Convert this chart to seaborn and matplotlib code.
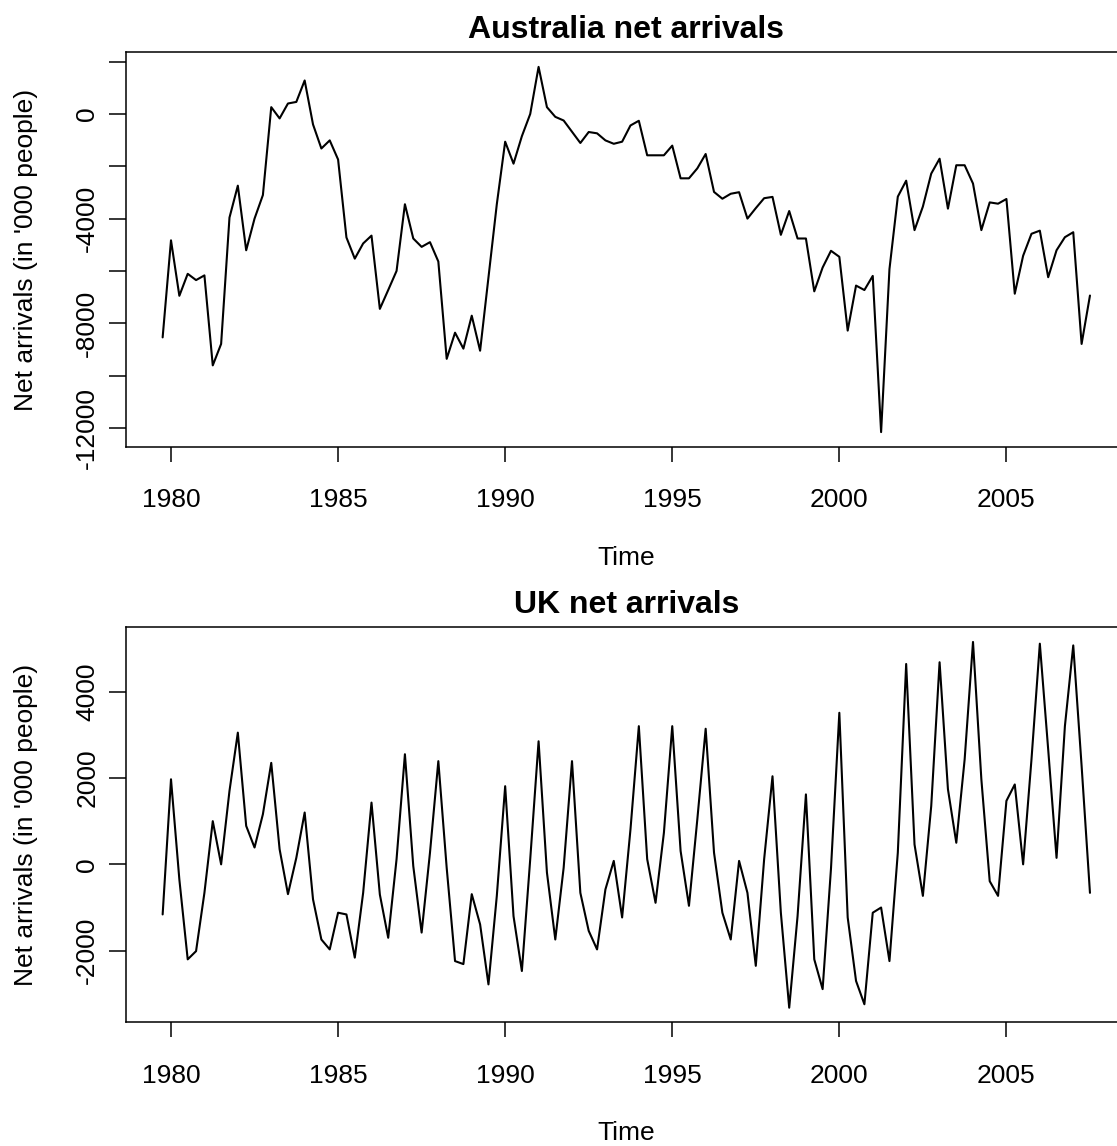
import numpy as np
import pandas as pd
import matplotlib
matplotlib.use("Agg")
import matplotlib.pyplot as plt
import seaborn as sns

#%% Données (trimestriel, 1979 T4 -> 2007 T3)
time = np.arange(1979.75, 2007.51, 0.25)

aus_net = [-8540, -4830, -6950, -6110, -6350, -6170, -9610, -8790, -3960, -2740,
           -5210, -4000, -3100, 260, -170, 400, 460, 1280, -400, -1320,
           -1010, -1740, -4720, -5530, -4950, -4650, -7450, -6730, -6000, -3450,
           -4760, -5080, -4900, -5640, -9360, -8360, -8970, -7710, -9050, -6250,
           -3450, -1060, -1900, -850, 0, 1800, 260, -110, -250, -680,
           -1110, -690, -740, -1010, -1140, -1060, -440, -260, -1580, -1580,
           -1580, -1210, -2460, -2460, -2080, -1530, -2980, -3240, -3050, -2990,
           -4000, -3600, -3220, -3170, -4620, -3710, -4760, -4760, -6780, -5870,
           -5230, -5460, -8280, -6560, -6730, -6190, -12160, -5930, -3160, -2550,
           -4440, -3540, -2280, -1710, -3620, -1960, -1960, -2660, -4440, -3380,
           -3430, -3250, -6870, -5420, -4580, -4460, -6240, -5210, -4710, -4520,
           -8790, -6940]

uk_net = [-1160, 1970, -350, -2200, -2010, -660, 1000, 0, 1700, 3050,
          890, 390, 1160, 2350, 350, -690, 150, 1200, -810, -1740,
          -1970, -1120, -1160, -2160, -660, 1430, -700, -1700, 120, 2550,
          -40, -1580, 270, 2390, -80, -2240, -2310, -690, -1390, -2780,
          -730, 1810, -1200, -2470, 120, 2850, -190, -1740, -80, 2390,
          -660, -1540, -1970, -580, 80, -1230, 810, 3200, 120, -890,
          730, 3200, 310, -960, 1040, 3140, 270, -1120, -1740, 80,
          -660, -2350, 120, 2040, -1120, -3320, -1200, 1620, -2200, -2890,
          -100, 3510, -1230, -2700, -3240, -1120, -1000, -2240, 270, 4640,
          460, -730, 1350, 4680, 1740, 500, 2430, 5150, 1970, -390,
          -730, 1470, 1850, 0, 2430, 5110, 2660, 150, 3200, 5070,
          2280, -660]

xticks = [1980, 1985, 1990, 1995, 2000, 2005]
aus_yticks = [-12000, -10000, -8000, -6000, -4000, -2000, 0, 2000]
aus_ylabels = ['-12000', '', '-8000', '', '-4000', '', '0', '']
uk_yticks = [-2000, 0, 2000, 4000]
uk_ylabels = ['-2000', '0', '2000', '4000']

titles = ['Australia net arrivals', 'UK net arrivals']
ylab = "Net arrivals (in '000 people)"

df = pd.DataFrame({'Time': time, 'aus': aus_net, 'uk': uk_net})

#%% Mise en forme façon R base
sns.set_style('ticks')
plt.rcParams['font.family'] = ['Liberation Sans', 'DejaVu Sans']
plt.rcParams['text.color'] = 'black'
plt.rcParams['axes.labelcolor'] = 'black'
plt.rcParams['xtick.color'] = 'black'
plt.rcParams['ytick.color'] = 'black'

fig = plt.figure(figsize=(11.17, 11.46), dpi=100)
ax1 = fig.add_axes([0.1124, 0.6102, 0.8966, 0.3442])
ax2 = fig.add_axes([0.1124, 0.1079, 0.8966, 0.3447])

panels = [(ax1, 'aus', aus_yticks, aus_ylabels, titles[0]),
          (ax2, 'uk', uk_yticks, uk_ylabels, titles[1])]

for ax, col, yt, yl, tt in panels:
    sns.lineplot(data=df, x='Time', y=col, ax=ax, color='black', linewidth=1.5)
    ax.margins(x=0.04, y=0.04)
    ax.set_xticks(xticks)
    ax.set_xticklabels([str(v) for v in xticks])
    ax.set_yticks(yt)
    ax.set_yticklabels(yl)
    for lab in ax.get_yticklabels():
        lab.set_rotation(90)
        lab.set_va('center')
    ax.tick_params(axis='x', bottom=True, length=11, width=1.1, pad=19, labelsize=19,
                   direction='out', colors='black')
    ax.tick_params(axis='y', left=True, length=12, width=1.1, pad=7, labelsize=19,
                   direction='out', colors='black')
    for s in ax.spines.values():
        s.set_visible(True)
        s.set_linewidth(1.1)
        s.set_color('black')
    ax.set_xlabel('Time', fontsize=19, labelpad=24, color='black')
    ax.set_ylabel(ylab, fontsize=19, labelpad=27, color='black')
    ax.set_title(tt, fontsize=23, fontweight='bold', pad=10, color='black')

fig.savefig('out.png', dpi=100)
